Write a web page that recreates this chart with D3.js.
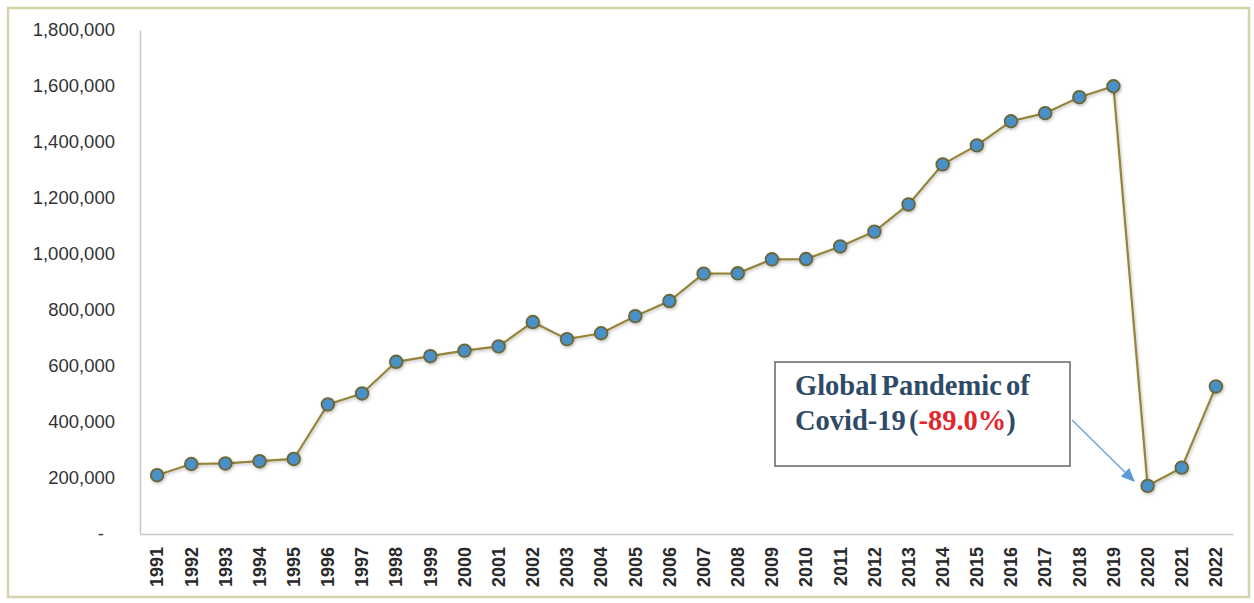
<!DOCTYPE html>
<html>
<head>
<meta charset="utf-8">
<script src="https://cdn.jsdelivr.net/npm/d3@7"></script>
<style>
  html, body { margin: 0; padding: 0; background: #ffffff; }
  svg { display: block; }
</style>
</head>
<body>
<script>
const years = ["1991","1992","1993","1994","1995","1996","1997","1998","1999","2000",
  "2001","2002","2003","2004","2005","2006","2007","2008","2009","2010",
  "2011","2012","2013","2014","2015","2016","2017","2018","2019","2020","2021","2022"];
const values = [210000, 250000, 252000, 260000, 268000, 463000, 502000, 615000, 635000, 655000,
  670000, 757000, 696000, 717000, 778000, 832000, 930000, 931000, 981000, 982000,
  1027000, 1080000, 1177000, 1320000, 1388000, 1474000, 1503000, 1560000, 1599000, 172000, 237000, 527000];
const yTicks = [0, 200000, 400000, 600000, 800000, 1000000, 1200000, 1400000, 1600000, 1800000];
const noteLine1 = "Global Pandemic of";
const noteLine2 = ["Covid-19 (", "-89.0%", ")"];

const W = 1254, H = 603;
const svg = d3.select("body").append("svg").attr("width", W).attr("height", H);

// outer frame
svg.append("rect").attr("x", 8).attr("y", 8).attr("width", 1241).attr("height", 589)
  .attr("fill", "#fff").attr("stroke", "#d6d2aa").attr("stroke-width", 2.5);

const pLeft = 140, pRight = 1233, pTop = 30, pBottom = 534;
const x = d3.scaleBand().domain(years).range([pLeft, pRight]);
const y = d3.scaleLinear().domain([0, 1800000]).range([pBottom, pTop]);

// y axis
const yAxis = d3.axisLeft(y).tickValues(yTicks).tickSize(0).tickPadding(25)
  .tickFormat(d => d === 0 ? "-" : d3.format(",")(d));
const gy = svg.append("g").attr("transform", `translate(${pLeft},0)`).call(yAxis);
gy.select(".domain").attr("stroke", "#c8c8c8").attr("stroke-width", 1.5);
gy.selectAll("text").attr("font-family", "Liberation Sans, Arial, sans-serif")
  .attr("font-size", 18.5).attr("fill", "#333")
  .attr("dx", d => d === 0 ? -11 : 0);

// x axis
const xAxis = d3.axisBottom(x).tickSize(0).tickPadding(0);
const gx = svg.append("g").attr("transform", `translate(0,${pBottom})`).call(xAxis);
gx.select(".domain").attr("stroke", "#c8c8c8").attr("stroke-width", 1.5);
gx.selectAll("text")
  .attr("font-family", "Liberation Sans, Arial, sans-serif")
  .attr("font-weight", "bold").attr("font-size", 18).attr("fill", "#2a2a2a")
  .attr("text-anchor", "end").attr("dy", "0.35em")
  .attr("transform", "translate(0,13) rotate(-90)")
  .attr("x", 0).attr("y", 0);

// shadow filter
const defs = svg.append("defs");
const f = defs.append("filter").attr("id", "sh").attr("x", "-50%").attr("y", "-50%").attr("width", "200%").attr("height", "200%");
f.append("feDropShadow").attr("dx", 1).attr("dy", 1.5).attr("stdDeviation", 1.5).attr("flood-color", "#000").attr("flood-opacity", 0.25);

const cx = d => x(d) + x.bandwidth() / 2;
const data = years.map((d, i) => ({ year: d, v: values[i] }));

svg.append("path").datum(data)
  .attr("fill", "none").attr("stroke", "#95843a").attr("stroke-width", 2.2)
  .attr("filter", "url(#sh)")
  .attr("d", d3.line().x(d => cx(d.year)).y(d => y(d.v)));

svg.append("g").selectAll("circle").data(data).join("circle")
  .attr("cx", d => cx(d.year)).attr("cy", d => y(d.v)).attr("r", 6.3)
  .attr("fill", "#4a90c8").attr("stroke", "#6b6634").attr("stroke-width", 1.8)
  .attr("filter", "url(#sh)");

// annotation
svg.append("rect").attr("x", 775).attr("y", 362).attr("width", 295).attr("height", 104)
  .attr("fill", "#fff").attr("stroke", "#666").attr("stroke-width", 1.5);
const t1 = svg.append("text").attr("x", 795).attr("y", 395)
  .attr("font-family", "Liberation Serif, Times New Roman, serif").attr("font-weight", "bold")
  .attr("font-size", 28.5).attr("fill", "#2e4a66").attr("word-spacing", -3)
  .text(noteLine1);
const t2 = svg.append("text").attr("x", 795).attr("y", 430)
  .attr("font-family", "Liberation Serif, Times New Roman, serif").attr("font-weight", "bold")
  .attr("font-size", 28.5).attr("fill", "#2e4a66").attr("word-spacing", -4);
t2.append("tspan").text(noteLine2[0]);
t2.append("tspan").attr("fill", "#e3242b").text(noteLine2[1]);
t2.append("tspan").text(noteLine2[2]);

// arrow
const ax1 = 1072, ay1 = 420, ax2 = 1135, ay2 = 482;
const ang = Math.atan2(ay2 - ay1, ax2 - ax1);
const hl = 14, hw = 6;
const bx = ax2 - hl * Math.cos(ang), by = ay2 - hl * Math.sin(ang);
svg.append("line").attr("x1", ax1).attr("y1", ay1).attr("x2", bx).attr("y2", by)
  .attr("stroke", "#6a9fd0").attr("stroke-width", 1.3);
svg.append("path")
  .attr("d", `M${ax2},${ay2} L${bx + hw * Math.sin(ang)},${by - hw * Math.cos(ang)} L${bx - hw * Math.sin(ang)},${by + hw * Math.cos(ang)} Z`)
  .attr("fill", "#5b9bd5");
</script>
</body>
</html>
